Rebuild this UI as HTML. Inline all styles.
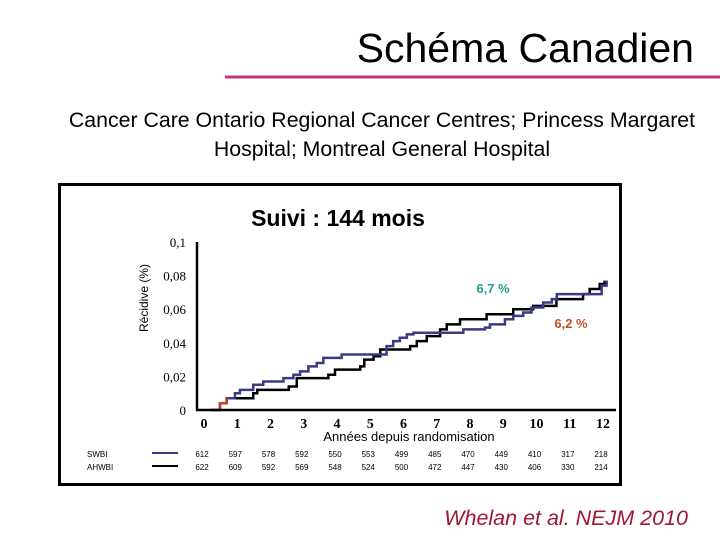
<!DOCTYPE html>
<html><head><meta charset="utf-8"><style>
html,body{margin:0;padding:0;background:#fff;}
body{width:720px;height:540px;overflow:hidden;position:relative;font-family:"Liberation Sans",sans-serif;}
</style></head><body>
<svg id="chart" width="720" height="540" viewBox="0 0 720 540" xmlns="http://www.w3.org/2000/svg">
<text x="694" y="62" text-anchor="end" font-family="Liberation Sans, sans-serif" font-size="41" fill="#000">Schéma Canadien</text>
<line x1="225" y1="77" x2="720" y2="77" stroke="#c0387a" stroke-width="3"/>
<text x="382" y="127" text-anchor="middle" font-size="21.3" fill="#000">Cancer Care Ontario Regional Cancer Centres; Princess Margaret</text>
<text x="382" y="156" text-anchor="middle" font-size="21.3" fill="#000">Hospital; Montreal General Hospital</text>
<rect x="59.5" y="184.5" width="561" height="300" fill="none" stroke="#000" stroke-width="3"/>
<text x="338" y="226" text-anchor="middle" font-size="23" font-weight="bold" fill="#000">Suivi : 144 mois</text>
<text transform="translate(148,298) rotate(-90)" text-anchor="middle" font-size="12" fill="#000">Récidive (%)</text>
<text x="409" y="441" text-anchor="middle" font-size="13" fill="#000">Années depuis randomisation</text>
<g id="yticks"></g><g id="xticks"></g><g id="series"></g><g id="risk"></g>
<line x1="197" y1="242" x2="197" y2="411" stroke="#000" stroke-width="2.5"/>
<line x1="196" y1="410" x2="616" y2="410" stroke="#000" stroke-width="2.5"/>
<text x="493" y="293" text-anchor="middle" font-size="13" font-weight="bold" fill="#2a9898">6,7 %</text>
<text x="571" y="328" text-anchor="middle" font-size="13" font-weight="bold" fill="#c0502a">6,2 %</text>
<text x="87" y="457" font-size="8" fill="#000">SWBI</text>
<text x="87" y="470" font-size="8" fill="#000">AHWBI</text>
<line x1="152" y1="453" x2="178" y2="453" stroke="#3b3b85" stroke-width="2"/>
<line x1="152" y1="466" x2="178" y2="466" stroke="#000" stroke-width="2"/>
<text x="688" y="525" text-anchor="end" font-size="21.5" font-style="italic" fill="#a01830">Whelan et al. NEJM 2010</text>
</svg>
<script>
const yTicks=[0,0.02,0.04,0.06,0.08,0.1];
const yTickLabels=["0","0,02","0,04","0,06","0,08","0,1"];
const xTicks=[0,1,2,3,4,5,6,7,8,9,10,11,12];
const swbiYears=[0.18,0.48,0.68,0.93,1.08,1.48,1.78,2.39,2.69,2.89,3.14,3.39,3.59,4.14,5.49,5.69,5.89,6.1,6.3,7.8,8.45,8.6,9.05,9.3,9.6,9.85,10.2,10.46,10.61,11.96,12.11];
const swbiValues=[0,0.004,0.007,0.010,0.012,0.015,0.017,0.019,0.021,0.023,0.026,0.028,0.031,0.033,0.038,0.041,0.043,0.045,0.046,0.048,0.049,0.051,0.054,0.056,0.058,0.061,0.064,0.066,0.069,0.074,0.077];
const ahwbiYears=[0.68,1.48,1.6,2.55,2.79,3.74,3.94,4.7,4.82,5.1,5.3,6.2,6.4,6.7,7.1,7.3,7.7,8.5,9.3,9.9,10.6,11.4,11.6,11.9,12.05];
const ahwbiValues=[0.007,0.010,0.012,0.014,0.019,0.021,0.024,0.026,0.030,0.032,0.036,0.038,0.041,0.044,0.048,0.051,0.054,0.057,0.060,0.062,0.066,0.069,0.072,0.075,0.077];
const swbiRisk=[612,597,578,592,550,553,499,485,470,449,410,317,218];
const ahwbiRisk=[622,609,592,569,548,524,500,472,447,430,406,330,214];
const NS="http://www.w3.org/2000/svg";
const X=v=>204+v*33.25;
const Y=v=>410-v*1680;
function mk(tag,attrs,parent){const e=document.createElementNS(NS,tag);for(const k in attrs)e.setAttribute(k,attrs[k]);parent.appendChild(e);return e;}
const yg=document.getElementById('yticks');
yTicks.forEach((t,i)=>{const e=mk('text',{x:186,y:Y(t)+5,'text-anchor':'end','font-size':13,'font-family':'Liberation Serif, serif'},yg);


e.textContent=yTickLabels[i];});
const xg=document.getElementById('xticks');
xTicks.forEach(t=>{const e=mk('text',{x:X(t),y:428,'text-anchor':'middle','font-size':14,'font-weight':'bold','font-family':'Liberation Serif, serif'},xg);


e.textContent=t;});
function stepPath(xs,vs){let d='M'+X(xs[0])+' '+Y(vs[0]);for(let i=1;i<xs.length;i++){d+=' H'+X(xs[i])+' V'+Y(vs[i]);}return d;}
const sg=document.getElementById('series');
const p1=mk('path',{d:stepPath(ahwbiYears,ahwbiValues),fill:'none',stroke:'#000','stroke-width':2.5},sg);


const p2=mk('path',{d:stepPath(swbiYears,swbiValues),fill:'none',stroke:'#3b3b85','stroke-width':2.5},sg);


const p3=mk('path',{d:stepPath(swbiYears.slice(0,3),swbiValues.slice(0,3)),fill:'none',stroke:'#c0402a','stroke-width':2.5},sg);


const rg=document.getElementById('risk');
[[swbiRisk,457,'swbi'],[ahwbiRisk,470,'ahwbi']].forEach(([arr,y,n])=>{arr.forEach((v,i)=>{const e=mk('text',{x:X(i)-2,y:y,'text-anchor':'middle','font-size':8},rg);


e.textContent=v;});});
</script>
</body></html>
